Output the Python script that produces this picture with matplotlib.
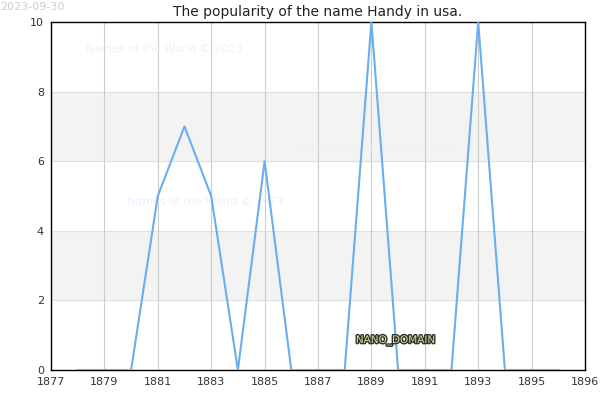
import matplotlib
matplotlib.use("Agg")
import matplotlib.pyplot as plt
import matplotlib.patheffects as pe

# ---------------------------------------------------------------------------
# Data
# ---------------------------------------------------------------------------
years = [1878, 1879, 1880, 1881, 1882, 1883, 1884, 1885, 1886, 1887,
         1888, 1889, 1890, 1891, 1892, 1893, 1894, 1895, 1896]
counts = [0, 0, 0, 5, 7, 5, 0, 6, 0, 0,
          0, 10, 0, 0, 0, 10, 0, 0, 0]

x_ticks = [1877, 1879, 1881, 1883, 1885, 1887, 1889, 1891, 1893, 1895, 1897]
x_labels = ["1877", "1879", "1881", "1883", "1885", "1887", "1889",
            "1891", "1893", "1895", "1896"]
y_ticks = [0, 2, 4, 6, 8, 10]
bands = [(2, 4), (6, 8)]

# ---------------------------------------------------------------------------
# Figure
# ---------------------------------------------------------------------------
fig = plt.figure(figsize=(6, 4), dpi=100)
ax = fig.add_axes([0.085, 0.075, 0.89, 0.87])

for lo, hi in bands:
    ax.axhspan(lo, hi, facecolor="#f3f3f3", edgecolor="#e0e0e0",
               linewidth=0.8, zorder=0)

ax.set_xlim(1877, 1897)
ax.set_ylim(0, 10)
ax.set_xticks(x_ticks)
ax.set_xticklabels(x_labels)
ax.set_yticks(y_ticks)
ax.grid(axis="x", color="#cccccc", linewidth=0.8, zorder=1)
ax.tick_params(length=0, labelsize=8, colors="#333333", pad=5)

for s in ax.spines.values():
    s.set_color("black")
    s.set_linewidth(1.0)

ax.plot(years, counts, color="#6aaef0", linewidth=1.5, zorder=3)

ax.set_title("The popularity of the name Handy in usa.",
             fontsize=10, color="#222222", pad=4)

# watermarks
wm = dict(fontsize=8, color="#eeeeff", transform=ax.transAxes, zorder=2)
ax.text(0.065, 0.913, "Names of the World © 2023", **wm)
ax.text(0.465, 0.626, "Names of the World © 2023", **wm)
ax.text(0.142, 0.473, "Names of the World © 2023", **wm)

fig.text(0.0, 0.995, "2023-09-30", fontsize=8, color="#cccccc",
         ha="left", va="top")

ax.text(1889.9, 0.85, "NANO_DOMAIN", fontsize=7.5, color="#d8d8b0",
        ha="center", va="center", zorder=4,
        path_effects=[pe.withStroke(linewidth=2, foreground="#333322")])

fig.savefig("out.png", dpi=100)
